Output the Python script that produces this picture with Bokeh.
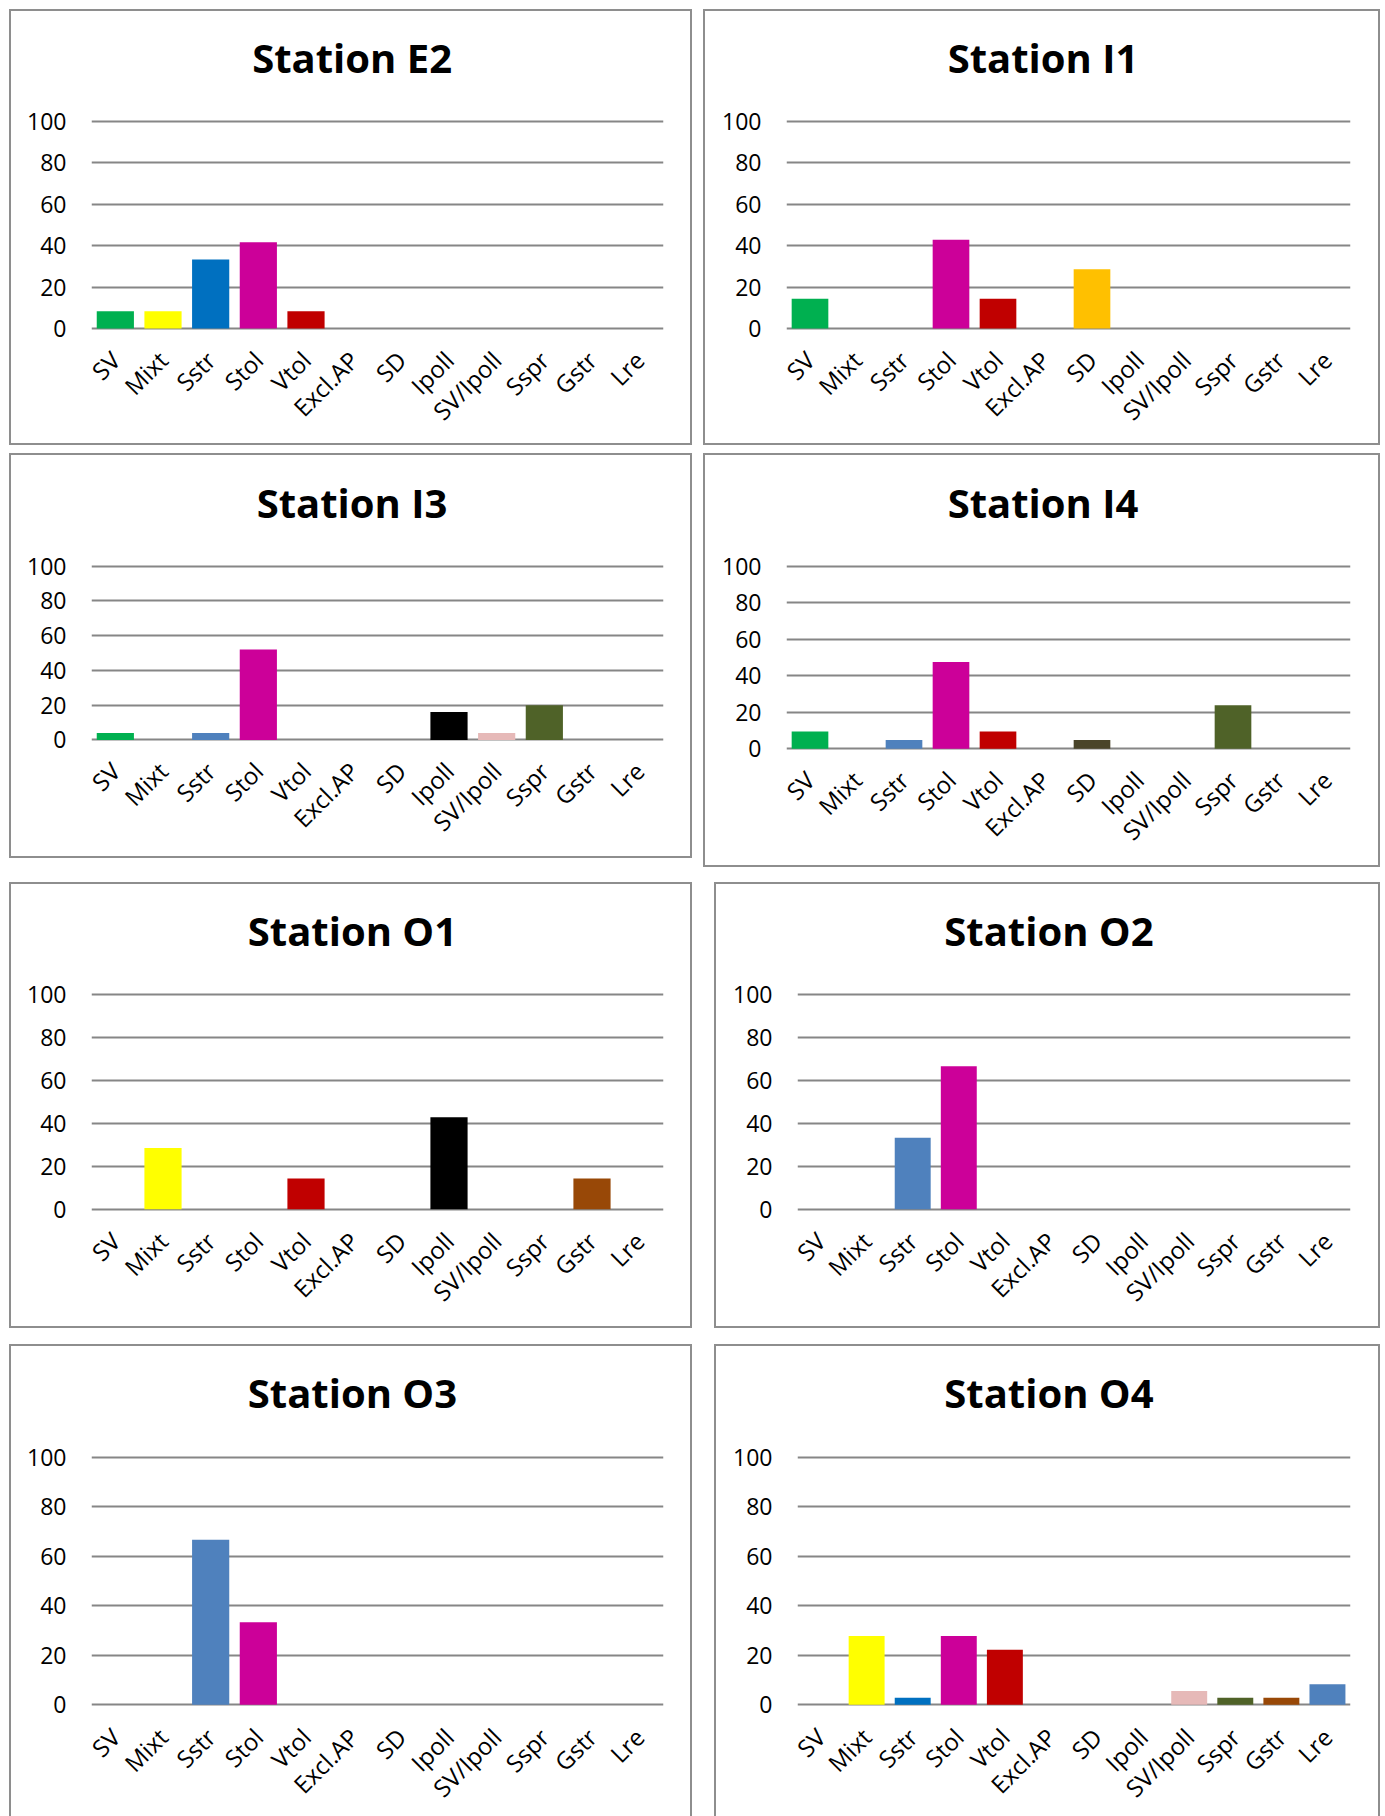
import math

from bokeh.embed import file_html
from bokeh.layouts import column, row
from bokeh.models import ColumnDataSource, FactorRange, FixedTicker, Range1d, Spacer, Title
from bokeh.plotting import figure
from bokeh.resources import INLINE

# Feeding-type categories shared by every station
categories = ["SV", "Mixt", "Sstr", "Stol", "Vtol", "Excl.AP", "SD",
              "Ipoll", "SV/Ipoll", "Sspr", "Gstr", "Lre"]

# Percentages per station (same order as categories)
station_e2 = [8.3, 8.3, 33.3, 41.7, 8.3, 0, 0, 0, 0, 0, 0, 0]
station_i1 = [14.3, 0, 0, 42.9, 14.3, 0, 28.6, 0, 0, 0, 0, 0]
station_i3 = [4.0, 0, 4.0, 52.0, 0, 0, 0, 16.0, 4.0, 20.0, 0, 0]
station_i4 = [9.5, 0, 4.8, 47.6, 9.5, 0, 4.8, 0, 0, 23.8, 0, 0]
station_o1 = [0, 28.6, 0, 0, 14.3, 0, 0, 42.9, 0, 0, 14.3, 0]
station_o2 = [0, 0, 33.3, 66.7, 0, 0, 0, 0, 0, 0, 0, 0]
station_o3 = [0, 0, 66.7, 33.3, 0, 0, 0, 0, 0, 0, 0, 0]
station_o4 = [0, 27.8, 2.8, 27.8, 22.2, 0, 0, 0, 5.6, 2.8, 2.8, 8.3]

y_ticks = [0, 20, 40, 60, 80, 100]

# Bar colours per category, with a few station-specific variants
base_colors = {
    "SV": "#00B050", "Mixt": "#FFFF00", "Sstr": "#4F81BD", "Stol": "#CC0099",
    "Vtol": "#C00000", "Excl.AP": "#7F7F7F", "SD": "#FFC000", "Ipoll": "#000000",
    "SV/Ipoll": "#E6B9B8", "Sspr": "#4F6228", "Gstr": "#984807", "Lre": "#4F81BD",
}


def colors_for(**overrides):
    pal = dict(base_colors)
    pal.update(overrides)
    return [pal[c] for c in categories]


GRID = "#868686"
FONT = "Open Sans"
BORDER = 2          # panel frame line width (css border)
Y_PAD = 1.5         # value-axis padding so the 0 and 100 grid lines are not clipped

# approximate advance widths (em) of the bold title face, used to centre titles on the panel
_BOLD_EM = {"S": 0.551, "t": 0.419, "a": 0.601, "i": 0.297, "o": 0.614, "n": 0.652,
            " ": 0.26, "E": 0.556, "I": 0.331, "O": 0.776}
TITLE_PX = 40
TITLE_GAP = 30      # space kept between the title and the plotting area


def title_width(text):
    return sum(_BOLD_EM.get(ch, 0.572) for ch in text) * TITLE_PX


def station_panel(name, values, colors, box_left, box_top, w, h,
                  frame_left, frame_right, y100, y0, open_bottom=False):
    """Build one bordered station panel; geometry given in page pixels."""
    canvas_left = box_left + BORDER
    canvas_top = box_top + BORDER
    canvas_right = canvas_left + w
    canvas_bottom = canvas_top + h
    px_per_unit = (y0 - y100) / 100.0
    f_top = y100 - Y_PAD * px_per_unit
    f_bottom = y0 + Y_PAD * px_per_unit

    p = figure(
        x_range=FactorRange(factors=categories),
        y_range=Range1d(-Y_PAD, 100 + Y_PAD),
        width=w, height=h,
        min_border_left=round(frame_left - canvas_left),
        min_border_right=round(canvas_right - frame_right),
        min_border_top=round(f_top - canvas_top),
        min_border_bottom=round(canvas_bottom - f_bottom),
        output_backend="svg", toolbar_location=None,
    )
    src = ColumnDataSource(dict(cat=categories, val=values, color=colors))
    p.vbar(x="cat", top="val", width=0.78, fill_color="color", line_color=None, source=src)

    p.outline_line_color = None
    p.background_fill_color = "white"
    p.border_fill_color = "white"

    p.xgrid.visible = False
    p.ygrid.ticker = FixedTicker(ticks=y_ticks)
    p.ygrid.grid_line_color = GRID
    p.ygrid.grid_line_width = 2

    ya = p.yaxis[0]
    ya.ticker = FixedTicker(ticks=y_ticks)
    ya.axis_line_color = None
    ya.major_tick_line_color = None
    ya.minor_tick_line_color = None
    ya.major_tick_out = 0
    ya.major_tick_in = 0
    ya.major_label_standoff = 25
    ya.major_label_text_font = FONT
    ya.major_label_text_font_size = "23px"
    ya.major_label_text_color = "#000000"

    xa = p.xaxis[0]
    xa.axis_line_color = None
    xa.major_tick_line_color = None
    xa.major_tick_out = 0
    xa.major_tick_in = 0
    xa.major_label_orientation = math.pi / 4
    xa.major_label_standoff = 24
    xa.major_label_text_font = FONT
    xa.major_label_text_font_size = "24px"
    xa.major_label_text_color = "#000000"

    # an empty strip between frame and title, then the bold station title
    gap = Title(text=" ", text_font_size="2px", standoff=TITLE_GAP)
    p.add_layout(gap, "above")
    box_center = box_left + w / 2.0
    heading = Title(
        text=name, align="left",
        offset=(box_center - frame_left) - title_width(name) / 2.0,
        text_font=FONT, text_font_style="bold", text_font_size=f"{TITLE_PX}px",
        text_color="#000000", standoff=0,
    )
    p.add_layout(heading, "above")

    styles = {"border": f"{BORDER}px solid #8e8e8e", "box-sizing": "border-box"}
    if open_bottom:
        styles["border-bottom"] = "none"
    p.styles = styles
    return p


# page geometry of the 4 x 2 grid of panels
L_X, L_W = 9, 683
R1_X, R1_W = 703, 677
R2_X, R2_W = 714, 666
ROW_Y = [9, 453, 882, 1344]

p_e2 = station_panel("Station E2", station_e2, colors_for(Sstr="#0070C0"),
                     L_X, ROW_Y[0], L_W, 436, 91, 663, 121, 328)
p_i1 = station_panel("Station I1", station_i1, colors_for(),
                     R1_X, ROW_Y[0], R1_W, 436, 786, 1350, 121, 328)
p_i3 = station_panel("Station I3", station_i3, colors_for(),
                     L_X, ROW_Y[1], L_W, 405, 91, 663, 565.7, 740.7)
p_i4 = station_panel("Station I4", station_i4, colors_for(SD="#4A452A"),
                     R1_X, ROW_Y[1], R1_W, 414, 786, 1350, 565.7, 748.7)
p_o1 = station_panel("Station O1", station_o1, colors_for(),
                     L_X, ROW_Y[2], L_W, 446, 91, 663, 994.3, 1208.7)
p_o2 = station_panel("Station O2", station_o2, colors_for(),
                     R2_X, ROW_Y[2], R2_W, 446, 797, 1350, 994.3, 1208.7)
p_o3 = station_panel("Station O3", station_o3, colors_for(),
                     L_X, ROW_Y[3], L_W, 472, 91, 663, 1456.7, 1704.7, open_bottom=True)
p_o4 = station_panel("Station O4", station_o4, colors_for(Sstr="#0070C0"),
                     R2_X, ROW_Y[3], R2_W, 472, 797, 1350, 1456.7, 1704.7, open_bottom=True)

layout = column(
    Spacer(height=ROW_Y[0]),
    row(Spacer(width=L_X), p_e2, Spacer(width=R1_X - L_X - L_W), p_i1),
    Spacer(height=ROW_Y[1] - ROW_Y[0] - 436),
    row(Spacer(width=L_X), p_i3, Spacer(width=R1_X - L_X - L_W), p_i4),
    Spacer(height=ROW_Y[2] - ROW_Y[1] - 414),
    row(Spacer(width=L_X), p_o1, Spacer(width=R2_X - L_X - L_W), p_o2),
    Spacer(height=ROW_Y[3] - ROW_Y[2] - 446),
    row(Spacer(width=L_X), p_o3, Spacer(width=R2_X - L_X - L_W), p_o4),
)

with open("out.html", "w") as f:
    f.write(file_html(layout, INLINE, title="Stations"))
